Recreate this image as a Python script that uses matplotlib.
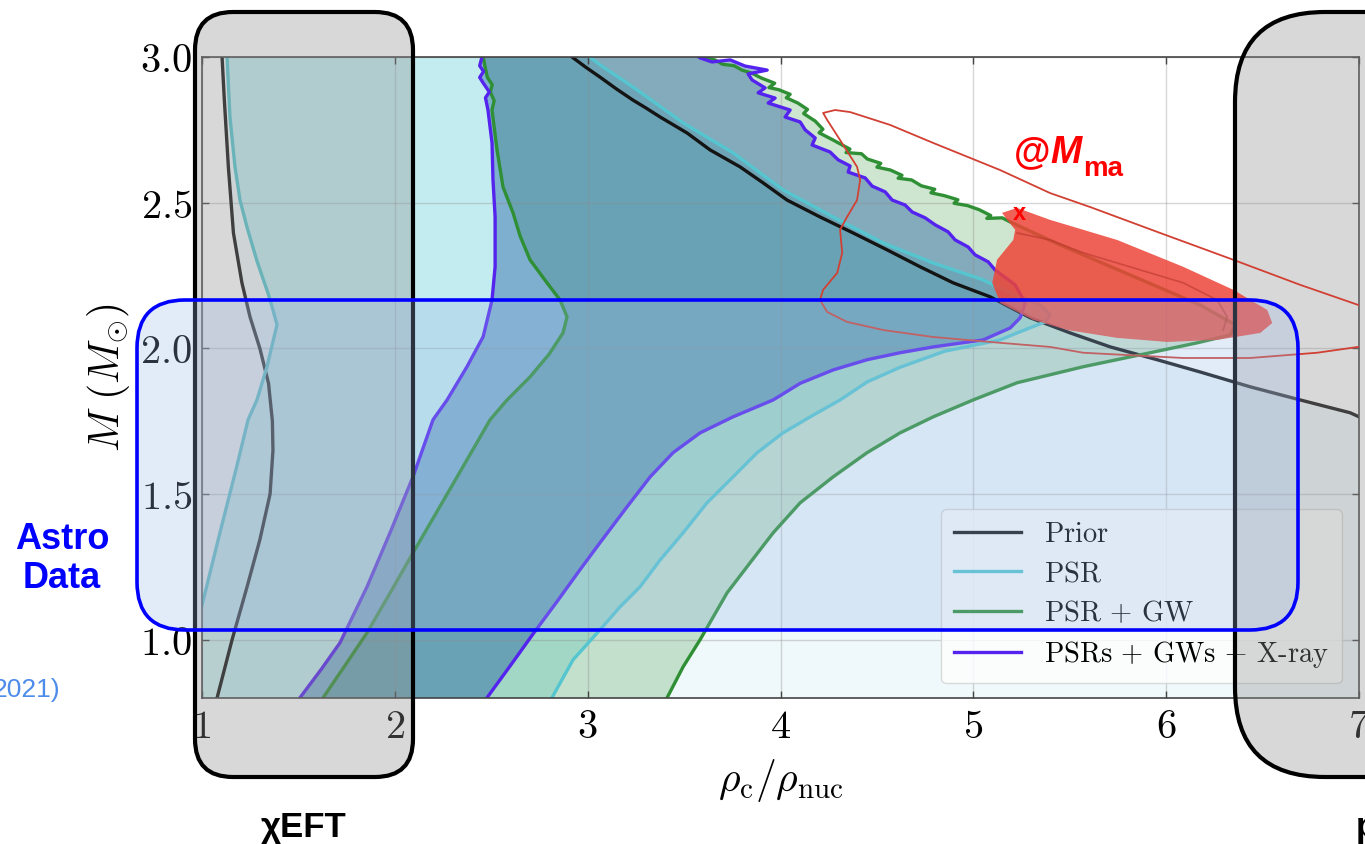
import matplotlib
matplotlib.use("Agg")
import numpy as np
import matplotlib.pyplot as plt
from matplotlib.patches import FancyBboxPatch
from matplotlib.lines import Line2D

plt.rcParams["mathtext.fontset"] = "cm"
plt.rcParams["font.family"] = ["Liberation Sans", "DejaVu Sans"]

# ---------------------------------------------------------------------------
# Axis ticks
# ---------------------------------------------------------------------------
X_TICKS = [1, 2, 3, 4, 5, 6, 7]
X_TICK_LABELS = ["1", "2", "3", "4", "5", "6", "7"]
Y_TICKS = [1.0, 1.5, 2.0, 2.5, 3.0]
Y_TICK_LABELS = ["1.0", "1.5", "2.0", "2.5", "3.0"]

SERIES = ["Prior", "PSR", "PSR + GW", "PSRs + GWs + X-ray"]

# ---------------------------------------------------------------------------
# 90% credible outlines in the (rho_c/rho_nuc, M) plane, as closed contours
# ---------------------------------------------------------------------------
PRIOR = [
    (1.075, 0.70), (1.078, 0.80), (1.156, 1.00), (1.233, 1.18), (1.300, 1.343),
    (1.353, 1.50), (1.368, 1.65), (1.365, 1.75), (1.345, 1.88), (1.300, 2.00),
    (1.249, 2.108), (1.207, 2.225), (1.163, 2.396), (1.137, 2.62), (1.116, 2.85),
    (1.104, 3.00), (1.100, 3.05),
    (2.905, 3.05), (2.919, 3.00), (2.990, 2.965), (3.064, 2.931), (3.150, 2.890),
    (3.235, 2.852), (3.300, 2.826), (3.376, 2.794), (3.516, 2.739), (3.635, 2.681),
    (3.790, 2.623), (3.910, 2.568), (4.034, 2.509), (4.205, 2.451), (4.377, 2.396),
    (4.553, 2.338), (4.724, 2.280), (4.895, 2.225), (5.087, 2.177), (5.295, 2.105),
    (5.502, 2.053), (5.710, 2.005), (5.953, 1.961), (6.176, 1.919), (6.436, 1.868),
    (6.695, 1.823), (6.954, 1.779), (7.100, 1.735), (7.100, 0.70),
]

PSR = [
    (0.950, 0.70), (0.950, 0.985), (1.007, 1.137), (1.093, 1.367), (1.180, 1.594),
    (1.239, 1.755), (1.285, 1.823), (1.337, 1.937), (1.389, 2.081), (1.368, 2.132),
    (1.342, 2.190), (1.285, 2.300), (1.233, 2.417), (1.197, 2.509), (1.171, 2.623),
    (1.145, 2.794), (1.130, 3.00), (1.128, 3.05),
    (2.990, 3.05), (3.012, 3.00), (3.064, 2.973), (3.235, 2.897), (3.495, 2.774),
    (3.754, 2.671), (4.013, 2.544), (4.273, 2.451), (4.532, 2.362), (4.792, 2.293),
    (5.051, 2.235), (5.191, 2.190), (5.347, 2.149), (5.398, 2.115), (5.372, 2.091),
    (5.227, 2.053), (5.139, 2.029), (4.850, 1.990), (4.620, 1.935), (4.450, 1.885),
    (4.309, 1.823), (4.154, 1.765), (4.013, 1.710), (3.879, 1.642), (3.754, 1.559),
    (3.619, 1.470), (3.495, 1.367), (3.376, 1.274), (3.272, 1.182), (3.168, 1.113),
    (3.064, 1.034), (2.924, 0.931), (2.815, 0.801), (2.780, 0.70),
]

PSR_GW = [
    (1.600, 0.70), (1.628, 0.801), (1.740, 0.910), (1.856, 1.024), (1.975, 1.160),
    (2.094, 1.298), (2.210, 1.430), (2.323, 1.559), (2.420, 1.670), (2.494, 1.755),
    (2.582, 1.823), (2.701, 1.902), (2.800, 1.980), (2.872, 2.053), (2.893, 2.108),
    (2.857, 2.166), (2.789, 2.225), (2.701, 2.304), (2.650, 2.385), (2.613, 2.465),
    (2.561, 2.554), (2.530, 2.681), (2.504, 2.818), (2.515, 2.850), (2.495, 2.880),
    (2.505, 2.905), (2.480, 2.930), (2.468, 2.966), (2.458, 3.00), (2.455, 3.05),
    (3.560, 3.05), (3.600, 3.000), (3.660, 2.990), (3.700, 2.975), (3.760, 2.970),
    (3.800, 2.955), (3.850, 2.945), (3.900, 2.928), (3.970, 2.910), (3.940, 2.895),
    (3.990, 2.888), (4.050, 2.872), (4.030, 2.860), (4.090, 2.842), (4.140, 2.820),
    (4.120, 2.806), (4.180, 2.780), (4.220, 2.752), (4.200, 2.740), (4.270, 2.716),
    (4.320, 2.698), (4.360, 2.684), (4.340, 2.672), (4.420, 2.668), (4.450, 2.650),
    (4.520, 2.635), (4.500, 2.622), (4.570, 2.612), (4.630, 2.594), (4.610, 2.584),
    (4.680, 2.578), (4.730, 2.558), (4.800, 2.546), (4.780, 2.534), (4.850, 2.524),
    (4.920, 2.510), (4.900, 2.498), (4.970, 2.490), (5.030, 2.476), (5.090, 2.456),
    (5.070, 2.446), (5.150, 2.448), (5.191, 2.434), (5.450, 2.355), (5.813, 2.252),
    (6.176, 2.149), (6.358, 2.081), (6.332, 2.046), (6.161, 2.019), (5.917, 1.985),
    (5.570, 1.937), (5.227, 1.882), (4.999, 1.823), (4.792, 1.765), (4.620, 1.710),
    (4.449, 1.642), (4.273, 1.559), (4.102, 1.470), (3.962, 1.367), (3.842, 1.264),
    (3.723, 1.161), (3.583, 1.000), (3.495, 0.907), (3.412, 0.801), (3.390, 0.70),
]

PSRS_GWS_XRAY = [
    (1.480, 0.70), (1.508, 0.801), (1.620, 0.900), (1.716, 0.990), (1.856, 1.182),
    (1.975, 1.367), (2.094, 1.559), (2.198, 1.755), (2.271, 1.823), (2.374, 1.937),
    (2.458, 2.040), (2.504, 2.166), (2.520, 2.280), (2.520, 2.451), (2.509, 2.578),
    (2.504, 2.705), (2.483, 2.818), (2.470, 2.860), (2.490, 2.880), (2.458, 2.911),
    (2.440, 2.930), (2.460, 2.950), (2.440, 2.970), (2.452, 3.00), (2.450, 3.05),
    (3.480, 3.05), (3.583, 2.997), (3.645, 2.983), (3.739, 2.990), (3.816, 2.969),
    (3.931, 2.955), (3.832, 2.942), (3.853, 2.921), (3.920, 2.894), (3.884, 2.877),
    (3.972, 2.859), (3.936, 2.842), (4.050, 2.818), (4.024, 2.794), (4.102, 2.777),
    (4.128, 2.750), (4.180, 2.722), (4.164, 2.698), (4.257, 2.674), (4.299, 2.647),
    (4.361, 2.626), (4.351, 2.605), (4.439, 2.585), (4.475, 2.557), (4.543, 2.537),
    (4.579, 2.509), (4.646, 2.492), (4.683, 2.468), (4.750, 2.448), (4.802, 2.424),
    (4.869, 2.400), (4.906, 2.372), (4.973, 2.348), (5.009, 2.321), (5.077, 2.297),
    (5.113, 2.269), (5.217, 2.218), (5.269, 2.156), (5.243, 2.105), (5.191, 2.070),
    (5.051, 2.029), (4.792, 2.005), (4.620, 1.985), (4.449, 1.961), (4.273, 1.926),
    (4.102, 1.880), (3.962, 1.823), (3.754, 1.765), (3.583, 1.710), (3.443, 1.642),
    (3.324, 1.559), (3.204, 1.456), (3.064, 1.333), (2.960, 1.240), (2.840, 1.130),
    (2.717, 1.020), (2.600, 0.912), (2.478, 0.801), (2.450, 0.70),
]

# Maximum-mass configuration: filled region, outer contour and inner ridge
MMAX_FILL = [
    (5.149, 2.465), (5.227, 2.482), (5.398, 2.441), (5.746, 2.372), (6.088, 2.280),
    (6.348, 2.201), (6.524, 2.132), (6.550, 2.087), (6.488, 2.053), (6.265, 2.029),
    (6.005, 2.022), (5.746, 2.036), (5.487, 2.063), (5.310, 2.098), (5.139, 2.156),
    (5.098, 2.225), (5.123, 2.304), (5.207, 2.372), (5.217, 2.407), (5.175, 2.441),
]
MMAX_CONTOUR = [
    (7.060, 2.010), (6.996, 2.005), (6.783, 1.985), (6.436, 1.967), (6.088, 1.967),
    (5.570, 1.985), (5.398, 2.005), (5.139, 2.019), (4.792, 2.039), (4.532, 2.063),
    (4.345, 2.091), (4.242, 2.125), (4.205, 2.166), (4.221, 2.201), (4.294, 2.259),
    (4.320, 2.328), (4.309, 2.407), (4.345, 2.451), (4.397, 2.509), (4.413, 2.578),
    (4.397, 2.623), (4.309, 2.715), (4.242, 2.784), (4.221, 2.808), (4.283, 2.818),
    (4.361, 2.811), (4.568, 2.767), (4.792, 2.705), (5.139, 2.612), (5.398, 2.533),
    (5.606, 2.485), (5.969, 2.396), (6.348, 2.304), (6.695, 2.218), (6.996, 2.149),
    (7.060, 2.135),
]
MMAX_RIDGE = [
    (5.227, 2.396), (5.398, 2.372), (5.570, 2.328), (5.746, 2.293), (5.917, 2.259),
    (6.088, 2.225), (6.265, 2.166), (6.316, 2.108), (6.296, 2.063),
]
MMAX_MARK = (5.24, 2.462)

BANDS = [PRIOR, PSR, PSR_GW, PSRS_GWS_XRAY]
LINE_COLORS = ["#141414", "#55c6cf", "#2f8f35", "#5424ee"]
FILL_COLORS = [(0.70, 0.88, 0.90), (0.37, 0.82, 0.85), (0.24, 0.60, 0.26), (0.09, 0.33, 0.62)]
FILL_ALPHAS = [0.20, 0.30, 0.25, 0.40]

# ---------------------------------------------------------------------------
W_PX, H_PX = 1365, 844
fig = plt.figure(figsize=(W_PX / 100, H_PX / 100), dpi=100)
ax = fig.add_axes([202 / W_PX, 146 / H_PX, 1157 / W_PX, 641 / H_PX])

for pts, fc, a in zip(BANDS, FILL_COLORS, FILL_ALPHAS):
    p = np.asarray(pts)
    ax.fill(p[:, 0], p[:, 1], color=fc, alpha=a, lw=0, zorder=1)

handles = []
for pts, lc, lab in zip(BANDS, LINE_COLORS, SERIES):
    p = np.asarray(pts)
    p = np.vstack([p, p[:1]])
    ax.plot(p[:, 0], p[:, 1], color=lc, lw=2.4, zorder=2,
            solid_joinstyle="round", solid_capstyle="round")
    handles.append(Line2D([], [], color=lc, lw=2.4))

m = np.asarray(MMAX_FILL)
ax.fill(m[:, 0], m[:, 1], color=(0.93, 0.27, 0.22), alpha=0.85, lw=0, zorder=3)
c = np.asarray(MMAX_CONTOUR)
ax.plot(c[:, 0], c[:, 1], color=(0.82, 0.25, 0.20), lw=1.3, zorder=3.5)
r = np.asarray(MMAX_RIDGE)
ax.plot(r[:, 0], r[:, 1], color=(0.70, 0.20, 0.16), lw=1.2, alpha=0.55, zorder=3.5)
ax.text(MMAX_MARK[0], MMAX_MARK[1], "x", color="red", fontsize=17,
        fontweight="bold", ha="center", va="center", zorder=6)

ax.set_xlim(1, 7)
ax.set_ylim(0.8, 3.0)
ax.set_xticks(X_TICKS, [f"${t}$" for t in X_TICK_LABELS])
ax.set_yticks(Y_TICKS, [f"${t}$" for t in Y_TICK_LABELS])
ax.tick_params(direction="in", length=5, width=1.0, top=True, right=True,
               labelsize=29, pad=7, color="#444444")
for s in ax.spines.values():
    s.set_color("#444444")
    s.set_linewidth(1.2)
ax.set_axisbelow("line")
ax.grid(True, color="0.55", alpha=0.35, lw=1.0)

ax.set_xlabel(r"$\rho_{\rm c}/\rho_{\rm nuc}$", fontsize=30, labelpad=8)
ax.set_ylabel(r"$M\ (M_{\odot})$", fontsize=30, labelpad=6)

leg = ax.legend(handles, [r"$\text{%s}$" % s for s in SERIES],
                loc="lower right", bbox_to_anchor=(0.985, 0.023),
                borderaxespad=0, fontsize=20.5, handlelength=2.35,
                handletextpad=0.8, labelspacing=0.45, borderpad=0.45,
                framealpha=0.8, edgecolor="0.82", fancybox=True)
leg.set_zorder(2.6)


# ---------------------------------------------------------------------------
# Annotation layer (pixel placement, origin at the top-left corner)
# ---------------------------------------------------------------------------
def rounded(x0, y0, x1, y1, rad, **kw):
    return FancyBboxPatch(
        (x0 / 100, (H_PX - y1) / 100), (x1 - x0) / 100, (y1 - y0) / 100,
        boxstyle=f"round,pad=0,rounding_size={rad / 100}",
        transform=fig.dpi_scale_trans, **kw)


def label(x, y, s, **kw):
    fig.text(x / 100, (H_PX - y) / 100, s, transform=fig.dpi_scale_trans, **kw)


GRAY_BOXES = [(195, 12, 413, 777, 38), (1235, 12, 1560, 777, 90)]
for x0, y0, x1, y1, rad in GRAY_BOXES:
    shade = rounded(x0, y0, x1, y1, rad, fc=(0.57, 0.57, 0.57, 0.35),
                    ec="none", zorder=2.8)
    shade.set_clip_on(False)
    ax.add_artist(shade)
    rim = rounded(x0, y0, x1, y1, rad, fc="none", ec="black", lw=3.0, zorder=4)
    rim.set_clip_on(False)
    ax.add_artist(rim)

fig.add_artist(rounded(137, 300, 1298, 630, 48, fc=(0.60, 0.72, 0.90, 0.28),
                       ec=(0, 0, 1), lw=2.6, zorder=11))

label(62, 559, "Astro\nData", color=(0, 0, 1), fontsize=26, fontweight="bold",
      ha="center", va="center", linespacing=1.15, zorder=12)
label(304, 837, "χEFT", color="black", fontsize=25, fontweight="bold",
      ha="center", va="baseline", zorder=12)
label(1356, 837, "pQCD", color="black", fontsize=25, fontweight="bold",
      ha="left", va="baseline", zorder=12)
label(60, 690, "2021)", color=(0.30, 0.55, 0.92), fontsize=19,
      ha="right", va="center", zorder=12)
label(1014, 163, "@", color="red", fontsize=27, fontweight="bold",
      ha="left", va="baseline", zorder=12)
label(1050, 163, "M", color="red", fontsize=27, fontweight="bold",
      fontstyle="italic", ha="left", va="baseline", zorder=12)
label(1083, 176, "ma", color="red", fontsize=20, fontweight="bold",
      ha="left", va="baseline", zorder=12)

fig.savefig("out.png", dpi=100)
